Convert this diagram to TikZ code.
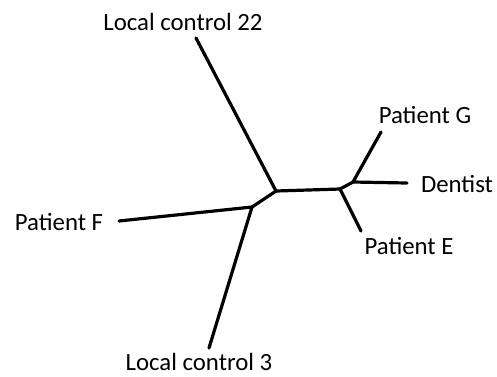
\documentclass[tikz,border=0pt]{standalone}
\usepackage{fontspec}
\setmainfont{Carlito}
\usepackage{tikz}
\tikzset{
    leaf/.style={inner sep=0pt, font=\fontsize{24.8}{28}\selectfont},
    branch/.style={line width=3.2pt, line cap=round, line join=round}
}

\begin{document}
\begin{tikzpicture}[x=1pt, y=-1pt]
    \useasboundingbox (0,0) rectangle (497,376);
    % inner points of the tree
    \coordinate (root) at (276,191);
    \coordinate (left) at (252,207);
    \coordinate (right) at (340,189);
    \coordinate (upper) at (353,182);
    % free ends of the branches
    \coordinate (endLC22) at (196,38);
    \coordinate (endF) at (119,221);
    \coordinate (endLC3) at (209,348);
    \coordinate (endG) at (381,132);
    \coordinate (endD) at (407,183);
    \coordinate (endE) at (361,231);

    \node[leaf] (lc22) at (183,22) {Local control 22};
    \node[leaf] (patF) at (59,222) {Patient F};
    \node[leaf] (lc3) at (199,362) {Local control 3};
    \node[leaf] (patG) at (425,115) {Patient G};
    \node[leaf] (dentist) at (457,184) {Dentist};
    \node[leaf] (patE) at (409,246) {Patient E};

    \draw[branch] (endLC22) -- (root);
    \draw[branch] (root) -- (left);
    \draw[branch] (left) -- (endF);
    \draw[branch] (left) -- (endLC3);
    \draw[branch] (root) -- (right);
    \draw[branch] (right) -- (upper);
    \draw[branch] (upper) -- (endG);
    \draw[branch] (upper) -- (endD);
    \draw[branch] (right) -- (endE);
\end{tikzpicture}
\end{document}
